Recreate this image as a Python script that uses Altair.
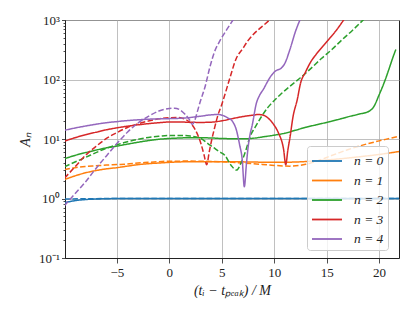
import altair as alt
import pandas as pd

# ---- data (x = (t_i - t_peak)/M, y = A_n) ----
n0_solid = [(-10, 0.85), (-9, 0.92), (-8, 0.96), (-7, 0.98), (-6, 0.99), (-5, 1.0), (0, 1.0), (10, 1.0), (22, 1.0)]
n0_dash = [(-10, 0.98), (-8, 0.99), (-5, 1.0), (0, 1.0), (10, 1.0), (22, 1.0)]

n1_solid = [(-10, 2.08), (-9, 2.4), (-8, 2.7), (-7, 2.95), (-6, 3.15), (-5, 3.3), (-4, 3.5), (-3, 3.7),
            (-2, 3.85), (-1, 3.95), (0, 4.05), (2, 4.15), (4, 4.15), (6, 4.15), (8, 4.1), (10, 4.05),
            (12, 4.1), (14, 4.3), (16, 4.6), (18, 5.0), (20, 5.5), (22, 6.2)]
n1_dash = [(-10, 3.07), (-9, 3.3), (-8, 3.45), (-7, 3.55), (-6, 3.65), (-5, 3.72), (-4, 3.8), (-3, 3.95),
           (-2, 4.05), (-1, 4.15), (0, 4.24), (2, 4.25), (4, 4.2), (6, 4.05), (8, 3.85), (10, 3.6),
           (11.5, 3.5), (13, 3.75), (14, 4.2), (15, 4.9), (16, 5.7), (17, 6.6), (18, 7.5), (19, 8.4),
           (20, 9.3), (21, 10.2), (22, 11.2)]

n2_solid = [(-10, 4.65), (-9, 5.3), (-8, 5.9), (-7, 6.5), (-6, 7.1), (-5, 7.6), (-4, 8.2), (-3, 8.8),
            (-2, 9.4), (-1, 9.9), (0, 10.2), (1, 10.4), (2, 10.5), (3, 10.5), (4, 10.4), (5, 10.2),
            (6, 10.1), (7, 10.05), (8, 10.3), (9, 10.9), (10, 11.6), (11, 12.5), (12, 14), (13, 15.7),
            (14, 17.3), (15, 19), (16, 21), (17, 23.5), (18, 26), (19, 29), (19.5, 35), (20, 55),
            (20.5, 90), (21, 160), (21.3, 230), (21.6, 320)]
n2_dash = [(-10, 3.41), (-9, 4.1), (-8, 4.9), (-7, 5.9), (-6, 7.0), (-5, 8.0), (-4, 9.0), (-3, 9.9),
           (-2, 10.6), (-1, 11.1), (0, 11.5), (1, 11.5), (2, 11.2), (3, 10.2), (3.7, 8.3), (4.2, 7.2),
           (4.7, 6.2), (5.3, 5.3), (5.9, 3.6), (6.4, 3.0), (6.9, 4.2), (7.3, 6.5), (7.7, 11), (8.2, 16),
           (8.8, 24), (9.4, 34), (10.1, 46), (10.6, 56), (11.5, 77), (12.5, 107), (13.4, 148),
           (14.5, 225), (15.5, 320), (16.5, 470), (17.5, 680), (18.6, 1050)]

n3_solid = [(-10, 9.2), (-9, 10.5), (-8, 11.8), (-7, 13), (-6, 14.3), (-5, 15.4), (-4, 16.4), (-3, 17.3),
            (-2, 18.1), (-1, 18.8), (0, 19.3), (1, 19.3), (2, 19.1), (3, 19.0), (4, 19.2), (5, 20.2),
            (6, 22), (7, 23.8), (8, 25.2), (8.5, 25.8), (9, 25), (9.4, 22.6), (9.9, 18), (10.4, 12.7),
            (10.9, 6.6), (11.1, 3.7), (11.3, 6.5), (11.5, 10.5), (11.8, 24), (12.2, 46), (12.5, 85),
            (13, 135), (13.5, 200), (14, 265), (15, 430), (16, 700), (16.7, 1050)]
n3_dash = [(-10, 2.2), (-9, 3.4), (-8, 5.3), (-7, 7.5), (-6, 10.2), (-5, 12.8), (-4, 15.6), (-3, 18),
           (-2, 20), (-1, 21.8), (0, 22.7), (0.8, 23), (1.5, 21.5), (2, 18.8), (2.5, 14), (3, 8.5),
           (3.3, 5.5), (3.56, 3.7), (3.8, 6), (4.0, 9), (4.3, 15), (4.6, 24), (5.0, 38), (5.3, 56),
           (5.8, 110), (6.4, 230), (7, 330), (7.5, 450), (8, 570), (8.5, 690), (9, 820), (9.7, 1050)]

n4_solid = [(-10, 14), (-9, 15.3), (-8, 16.5), (-7, 17.7), (-6, 18.8), (-5, 19.6), (-4, 20.4), (-3, 21),
            (-2, 21.5), (-1, 21.8), (0, 22), (1, 22.3), (2, 23), (3, 24.2), (4, 25.5), (4.6, 25.8),
            (5.2, 24.5), (5.6, 22.5), (6.0, 20), (6.4, 14), (6.7, 8), (6.95, 4.5), (7.15, 1.57),
            (7.35, 3.8), (7.5, 7), (7.7, 12), (7.9, 17), (8.3, 40), (8.6, 54), (9.0, 70), (9.3, 88),
            (9.7, 115), (10.1, 138), (10.7, 157), (11.0, 185), (11.5, 320), (12.0, 620), (12.5, 1050)]
n4_dash = [(-10, 0.76), (-9, 1.2), (-8, 1.9), (-7, 3.2), (-6, 5.2), (-5, 8.4), (-4, 13), (-3, 18.5),
           (-2, 24), (-1, 29.5), (0, 32.5), (0.5, 33), (1, 31), (1.5, 26), (2.0, 20), (2.2, 17.5),
           (2.4, 20), (2.7, 30), (2.9, 40), (3.4, 75), (3.9, 170), (4.3, 290), (4.8, 440), (5.5, 700),
           (6.15, 1050)]

labels = ["n = 0", "n = 1", "n = 2", "n = 3", "n = 4"]
colors = ["#1f77b4", "#ff7f0e", "#2ca02c", "#d62728", "#9467bd"]
x_ticks = [-5, 0, 5, 10, 15, 20]
y_major = [0.1, 1, 10, 100, 1000]
y_minor = [m * d for d in [0.1, 1, 10, 100] for m in range(2, 10)]

series = [
    (labels[0], "solid", n0_solid), (labels[0], "dashed", n0_dash),
    (labels[1], "solid", n1_solid), (labels[1], "dashed", n1_dash),
    (labels[2], "solid", n2_solid), (labels[2], "dashed", n2_dash),
    (labels[3], "solid", n3_solid), (labels[3], "dashed", n3_dash),
    (labels[4], "solid", n4_solid), (labels[4], "dashed", n4_dash),
]
rows = []
for order, (lab, kind, pts) in enumerate(series):
    for x, y in pts:
        rows.append({"x": x, "A": y, "n": lab, "kind": kind, "sid": order})
df = pd.DataFrame(rows)

FONT = "Liberation Serif"
major_test = "indexof([0.1, 1, 10, 100, 1000], datum.value) >= 0"
ylabel = ("datum.value == 1000 ? '10³' : datum.value == 100 ? '10²' : datum.value == 10 ? '10¹' : "
          "datum.value == 1 ? '10⁰' : datum.value == 0.1 ? '10⁻¹' : ''")

chart = alt.Chart(df).mark_line(strokeWidth=1.5, clip=True, interpolate="monotone").encode(
    x=alt.X("x:Q", scale=alt.Scale(domain=[-9.95, 21.9], nice=False, zero=False),
            axis=alt.Axis(values=x_ticks, title="(tᵢ − tₚₑₐₖ) / M", format="d", titleFontStyle="italic")),
    y=alt.Y("A:Q", scale=alt.Scale(type="log", domain=[0.1, 1000], nice=False),
            axis=alt.Axis(values=y_major + y_minor, labelExpr=ylabel, title="Aₙ",
                          labelOverlap=False,
                          tickSize={"condition": {"test": major_test, "value": 3.5}, "value": 2},
                          gridOpacity={"condition": {"test": major_test, "value": 1}, "value": 0})),
    color=alt.Color("n:N", scale=alt.Scale(domain=labels, range=colors),
                    legend=alt.Legend(title=None, orient="none", legendX=242, legendY=126)),
    strokeDash=alt.StrokeDash("kind:N", scale=alt.Scale(domain=["solid", "dashed"], range=[[1, 0], [5.5, 2.4]]),
                              legend=None),
    detail="sid:N",
    order="sid:Q",
).properties(
    width=334, height=238,
    autosize=alt.AutoSizeParams(type="none"),
    padding={"left": 57, "top": 12, "right": 8, "bottom": 45},
).configure_view(
    stroke="#222", strokeWidth=1
).configure_axis(
    labelFont=FONT, titleFont=FONT, labelFontSize=13, titleFontSize=14,
    labelColor="#222", titleColor="#222", titleFontWeight="normal",
    domainColor="#222", tickColor="#222", tickWidth=0.8,
    gridColor="#b0b0b0", gridWidth=0.8,
).configure_axisX(
    labelPadding=3, titlePadding=4,
).configure_axisY(
    labelPadding=2, titlePadding=6, titleFontStyle="italic",
).configure_legend(
    labelFont=FONT, labelFontSize=13.5, labelFontStyle="italic", labelColor="#222",
    symbolType="M-1.5,0L1.5,0", symbolSize=400, symbolStrokeWidth=1.8,
    symbolOffset=5,
    fillColor="rgba(255,255,255,0.8)", strokeColor="#cccccc", cornerRadius=3,
    padding=4, rowPadding=1.5, labelOffset=16,
)

chart.save("out.html", embed_options={"renderer": "svg", "actions": False})
